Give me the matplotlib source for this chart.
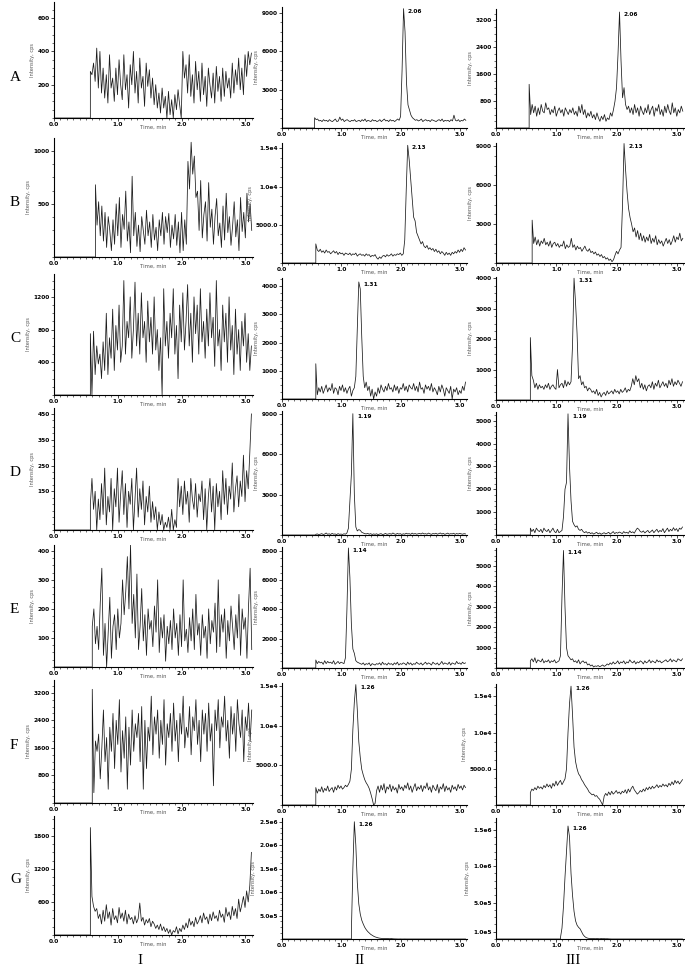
import numpy as np
import matplotlib
matplotlib.use("Agg")
import matplotlib.pyplot as plt
from matplotlib.ticker import MultipleLocator, AutoMinorLocator

# sampling step of the traces (min)
STEP = 0.025

# ---- column I (blank) ----
i_start = [0.57, 0.65, 0.57, 0.57, 0.60, 0.60, 0.57]
i_a = [280, 260, 330, 220, 420, 180, 400, 150, 300, 120,
       260, 90, 380, 180, 240, 100, 300, 140, 350, 200,
       110, 380, 170, 260, 60, 320, 200, 400, 150, 280,
       90, 360, 180, 250, 70, 330, 190, 290, 120, 240,
       80, 200, 60, 150, 30, 180, 60, 130, 0, 160,
       20, 110, 0, 140, 50, 170, 80, 0, 400, 240,
       320, 150, 380, 130, 260, 90, 340, 170, 280, 100,
       330, 140, 250, 70, 300, 200, 120, 270, 90, 310,
       160, 250, 100, 300, 130, 280, 180, 240, 120, 330,
       150, 290, 200, 360, 170, 300, 140, 380, 250, 400,
       320, 390]
i_b = [680, 300, 520, 200, 480, 150, 420, 90, 380, 250,
       60, 350, 120, 500, 200, 560, 90, 400, 260, 620,
       150, 330, 40, 760, 200, 420, 100, 300, 50, 380,
       250, 120, 440, 200, 330, 90, 400, 160, 280, 60,
       350, 200, 420, 120, 380, 230, 410, 90, 300, 170,
       400, 110, 330, 40, 420, 60, 350, 120, 900, 640,
       1080, 780, 950, 560, 620, 250, 720, 180, 400, 520,
       150, 700, 280, 450, 120, 380, 550, 200, 320, 90,
       480, 160, 600, 230, 380, 110, 290, 520, 190, 350,
       60, 560, 240, 420, 180, 600, 330, 500, 250]
i_c = [750, 0, 780, 250, 600, 380, 500, 200, 650, 300,
       1000, 250, 700, 450, 1050, 300, 850, 550, 1100, 400,
       600, 1400, 500, 900, 700, 1200, 450, 800, 1380, 600,
       1000, 500, 1250, 700, 900, 400, 1150, 650, 950, 500,
       1200, 550, 800, 300, 700, 0, 1300, 600, 900, 450,
       1000, 700, 1300, 500, 850, 200, 1100, 650, 1250, 550,
       900, 1350, 600, 1000, 400, 1200, 750, 1100, 500, 1300,
       650, 900, 450, 1050, 600, 1250, 700, 950, 350, 1400,
       600, 800, 300, 1100, 650, 1000, 400, 1200, 550, 850,
       250, 1050, 500, 800, 300, 900, 600, 1000, 400, 750,
       300, 600]
i_d = [100, 200, 80, 150, 0, 120, 40, 180, 60, 240,
       20, 130, 70, 200, 0, 160, 90, 240, 30, 140,
       230, 60, 180, 10, 150, 100, 200, 0, 120, 240,
       50, 160, 80, 190, 20, 130, 70, 170, 30, 110,
       40, 90, 0, 70, 20, 60, 0, 30, 10, 50,
       0, 80, 0, 40, 10, 200, 90, 170, 60, 190,
       100, 150, 30, 200, 120, 80, 180, 50, 140, 110,
       190, 40, 160, 0, 130, 200, 70, 170, 0, 180,
       90, 150, 40, 230, 100, 200, 60, 170, 120, 260,
       70, 160, 210, 90, 190, 130, 290, 110, 230, 160,
       300, 450]
i_e = [140, 200, 80, 140, 60, 220, 340, 40, 150, 0,
       120, 240, 30, 140, 180, 60, 200, 100, 150, 300,
       180, 260, 380, 200, 420, 150, 250, 100, 320, 60,
       140, 270, 90, 180, 40, 200, 130, 160, 70, 210,
       120, 300, 50, 170, 100, 180, 20, 140, 80, 160,
       60, 200, 100, 150, 40, 180, 70, 300, 90, 130,
       50, 170, 90, 200, 60, 250, 110, 150, 40, 180,
       100, 140, 30, 200, 80, 160, 120, 220, 50, 300,
       70, 180, 120, 200, 30, 160, 90, 210, 140, 60,
       180, 100, 250, 40, 200, 130, 170, 30, 210, 340,
       60]
i_f = [3300, 300, 1800, 1500, 2000, 700, 1600, 2700, 1200, 1900,
       400, 2200, 1500, 2600, 1000, 2400, 1700, 3000, 900, 2100,
       1300, 2500, 400, 2200, 1100, 2700, 1500, 2300, 1900, 2600,
       1200, 2800, 400, 2400, 1000, 2200, 1800, 3100, 1400, 2500,
       2000, 2700, 1300, 2400, 1700, 3000, 1100, 2300, 1900, 2600,
       1500, 2900, 1800, 2400, 1200, 2600, 2000, 3100, 1600, 2200,
       1900, 2800, 1400, 2500, 2100, 3000, 1700, 2400, 1200, 2700,
       2000, 2600, 1500, 2900, 1800, 2300, 500, 2700, 2100, 3000,
       1600, 2500, 2200, 3100, 1800, 2400, 1300, 2800, 2000, 2600,
       1500, 3000, 2300, 1900, 2700, 1200, 2500, 2100, 2900, 1800,
       2700]
i_g = [1950, 700, 520, 430, 480, 300, 380, 200, 450, 250,
       550, 300, 420, 180, 480, 280, 350, 220, 500, 300,
       400, 250, 450, 200, 380, 280, 320, 200, 350, 220,
       300, 580, 250, 320, 180, 280, 220, 300, 150, 250,
       200, 120, 180, 100, 200, 80, 150, 60, 120, 30,
       100, 0, 80, 50, 150, 20, 120, 60, 180, 100,
       220, 130, 300, 180, 250, 150, 320, 200, 260, 350,
       220, 400, 280, 330, 200, 380, 260, 420, 300, 350,
       250, 450, 320, 380, 230, 500, 340, 420, 280, 520,
       350, 480, 300, 650, 420, 550, 700, 500, 800, 600,
       900, 1500]

# ---- column II ----
ii_start = [0.55, 0.57, 0.57, 0.57, 0.57, 0.57, 1.17]
ii_a = [800, 650, 700, 550, 600, 500, 650, 550, 600, 500,
        650, 550, 500, 600, 700, 500, 550, 850, 600, 700,
        500, 600, 650, 550, 500, 600, 550, 650, 500, 550,
        600, 500, 650, 550, 700, 500, 600, 550, 500, 650,
        550, 600, 500, 550, 650, 500, 600, 700, 550, 600,
        500, 650, 550, 600, 500, 600, 700, 600, 900, 4500,
        9300, 7500, 3500, 1800, 1400, 1000, 800, 700, 600, 650,
        550, 600, 700, 500, 600, 650, 550, 600, 500, 650,
        600, 550, 500, 600, 650, 550, 700, 500, 600, 550,
        600, 500, 650, 550, 1000, 600, 550, 650, 500, 600,
        550, 700, 600]
ii_b = [2500, 1700, 1500, 1800, 1400, 1600, 1300, 1700, 1400, 1500,
        1200, 1400, 1600, 1300, 1500, 1100, 1400, 1200, 1300, 1000,
        1300, 1200, 1100, 1300, 1000, 1200, 1100, 1300, 900, 1100,
        1200, 1000, 1100, 900, 1200, 1000, 1100, 800, 1000, 900,
        1100, 700, 500, 800, 600, 900, 1000, 800, 1100, 900,
        1000, 1200, 900, 1100, 1000, 1200, 1100, 1300, 1000, 1200,
        3000, 9500, 15400, 13500, 11000, 8500, 6000, 5500, 4000, 3500,
        3000, 2500, 2800, 2200, 2000, 2300, 1800, 2000, 1700, 1900,
        1500, 1800, 1400, 1600, 1200, 1500, 1300, 1000, 1400, 1100,
        1300, 1000, 1400, 1200, 1500, 1300, 1700, 1400, 1800, 1500,
        2000, 1700]
ii_c = [1250, 150, 400, 250, 450, 200, 350, 500, 250, 400,
        300, 550, 200, 400, 350, 150, 450, 300, 500, 250,
        400, 200, 350, 450, 100, 300, 400, 800, 2500, 4150,
        3900, 2200, 800, 400, 600, 300, 450, 100, 350, 0,
        250, 100, 400, 200, 500, 350, 250, 450, 300, 550,
        350, 400, 250, 500, 300, 450, 200, 400, 350, 550,
        300, 450, 250, 500, 400, 350, 550, 300, 450, 250,
        600, 350, 400, 200, 500, 350, 450, 300, 550, 250,
        400, 300, 150, 450, 250, 500, 350, 100, 400, 300,
        200, 450, 0, 350, 250, 400, 150, 300, 200, 450,
        300, 600]
ii_d = [50, 80, 30, 60, 100, 40, 70, 150, 50, 90,
        40, 120, 60, 80, 30, 100, 50, 70, 40, 90,
        60, 150, 500, 2500, 4500, 9000, 3000, 600, 300, 400,
        350, 200, 150, 100, 80, 120, 60, 100, 40, 80,
        50, 90, 30, 70, 100, 40, 60, 120, 50, 80,
        100, 60, 150, 80, 50, 120, 70, 100, 40, 90,
        60, 130, 80, 100, 50, 140, 70, 110, 60, 90,
        120, 70, 150, 80, 100, 60, 140, 90, 50, 110,
        80, 130, 60, 100, 150, 70, 120, 50, 90, 140,
        60, 100, 80, 130, 50, 110, 70, 120, 90, 60,
        100, 80]
ii_e = [550, 300, 450, 350, 400, 250, 500, 300, 450, 350,
        400, 300, 500, 250, 350, 450, 300, 400, 350, 300,
        700, 4000, 8200, 6200, 3000, 1300, 1000, 500, 400, 350,
        300, 250, 350, 200, 300, 250, 350, 150, 300, 250,
        200, 300, 250, 350, 200, 400, 250, 300, 200, 350,
        250, 300, 200, 350, 250, 400, 200, 300, 250, 350,
        300, 200, 400, 250, 350, 200, 300, 250, 400, 300,
        250, 350, 200, 300, 400, 250, 350, 300, 200, 400,
        300, 250, 350, 200, 300, 450, 250, 350, 300, 250,
        400, 200, 350, 300, 250, 450, 300, 350, 250, 400,
        300, 350]
ii_f = [2200, 1500, 2000, 1700, 2300, 1600, 2100, 1800, 2400, 1700,
        2000, 2200, 1600, 2300, 1900, 2500, 2100, 2400, 2000, 2200,
        2500, 2300, 2600, 3000, 4500, 9500, 13000, 15200, 12000, 8000,
        6000, 4500, 3800, 3200, 2800, 2500, 2100, 1500, 800, 0,
        200, 1800, 2400, 1600, 2500, 1900, 2700, 1500, 2300, 2000,
        2600, 1700, 2400, 1900, 2200, 1500, 2600, 2000, 2300, 1800,
        2500, 2100, 2800, 1900, 2400, 1600, 2200, 2700, 1800, 2300,
        2000, 2500, 1700, 2400, 2100, 2800, 1900, 2300, 1600, 2500,
        2100, 1800, 2600, 1500, 2300, 2000, 2700, 1700, 2400, 1900,
        2200, 1600, 2500, 2000, 2300, 1800, 2600, 2100, 2400, 1900,
        2500, 2200]
ii_g = [150000, 1500000, 2500000, 2000000, 1200000, 750000, 530000, 400000, 320000, 250000,
        200000, 160000, 130000, 100000, 80000, 60000, 45000, 35000, 25000, 18000,
        14000, 10000, 8000, 9000, 12000, 8000, 6000, 10000, 5000, 3000,
        2000, 1000, 0, 1500, 0, 0, 1000, 0, 0, 0,
        0, 0, 0, 0, 0, 0, 0, 0, 0, 0,
        0, 0, 0, 0, 0, 0, 0, 0, 0, 0,
        0, 0, 0, 0, 0, 0, 0, 0, 0, 0,
        0, 0, 0, 0, 0, 0, 0, 0]

# ---- column III ----
iii_start = [0.55, 0.60, 0.57, 0.57, 0.57, 0.57, 1.07]
iii_a = [1300, 400, 700, 450, 650, 350, 600, 400, 700, 500,
         450, 750, 550, 600, 400, 550, 450, 650, 350, 500,
         600, 450, 550, 350, 600, 500, 400, 550, 450, 600,
         400, 500, 350, 650, 450, 700, 400, 550, 300, 450,
         350, 500, 300, 400, 250, 450, 300, 200, 350, 250,
         400, 200, 300, 250, 450, 350, 550, 800, 1200, 2200,
         3450, 2000, 900, 1200, 700, 550, 650, 450, 600, 400,
         700, 450, 600, 350, 650, 500, 400, 600, 450, 700,
         400, 550, 650, 350, 600, 500, 700, 400, 550, 350,
         650, 450, 700, 500, 400, 750, 450, 600, 350, 550,
         450, 650, 500]
iii_b = [3300, 1500, 2000, 1400, 1800, 1300, 1700, 1500, 1900, 1400,
         1600, 1300, 1700, 1200, 1500, 1600, 1300, 1500, 1200, 1400,
         1300, 1700, 1100, 1400, 1200, 1300, 1900, 1200, 1400, 1000,
         1300, 1100, 1200, 900, 1100, 1300, 1000, 900, 1100, 800,
         900, 700, 850, 600, 700, 500, 650, 400, 500, 300,
         400, 200, 300, 100, 250, 600, 900, 700, 1000, 1200,
         4500, 9200, 7200, 5500, 4200, 3500, 3000, 2400, 2700, 2000,
         2500, 1800, 2300, 1700, 2100, 1600, 2000, 1700, 2200, 1500,
         1900, 1600, 2100, 1400, 1800, 1500, 1700, 1300, 1600, 1900,
         1500, 1800, 1400, 1700, 2100, 1600, 2000, 1800, 2300, 1700,
         1900]
iii_c = [2050, 800, 650, 400, 550, 350, 500, 400, 450, 350,
         500, 400, 550, 350, 450, 500, 400, 350, 1000, 400,
         500, 550, 400, 650, 450, 600, 500, 600, 1800, 4000,
         3200, 2200, 700, 800, 500, 600, 400, 450, 300, 400,
         350, 250, 300, 200, 350, 150, 250, 100, 200, 250,
         150, 300, 200, 250, 300, 200, 350, 250, 300, 200,
         350, 250, 300, 400, 250, 350, 300, 450, 700, 500,
         800, 600, 700, 400, 550, 350, 500, 300, 450, 500,
         400, 600, 350, 550, 450, 650, 400, 500, 600, 450,
         550, 400, 650, 500, 700, 450, 600, 500, 650, 550,
         450, 600]
iii_d = [300, 150, 250, 100, 300, 200, 150, 250, 100, 300,
         200, 150, 250, 100, 200, 300, 150, 100, 250, 100,
         150, 200, 800, 2000, 2300, 5300, 3000, 1500, 600, 450,
         350, 400, 250, 200, 250, 150, 100, 150, 80, 120,
         60, 100, 40, 80, 120, 50, 90, 30, 70, 100,
         50, 80, 120, 40, 90, 150, 60, 110, 80, 130,
         100, 60, 150, 90, 120, 70, 180, 100, 140, 80,
         200, 300, 250, 150, 120, 180, 90, 150, 200, 100,
         150, 220, 100, 180, 250, 120, 200, 150, 280, 100,
         200, 300, 150, 250, 180, 320, 200, 280, 150, 300,
         250, 350]
iii_e = [350, 450, 300, 500, 250, 400, 350, 300, 450, 250,
         350, 300, 400, 250, 350, 300, 400, 250, 300, 350,
         600, 3500, 5750, 3000, 1000, 600, 500, 400, 450, 300,
         350, 250, 400, 200, 300, 350, 250, 300, 150, 200,
         100, 150, 50, 100, 80, 120, 60, 100, 150, 80,
         120, 200, 150, 250, 180, 300, 200, 250, 350, 200,
         300, 250, 350, 200, 300, 250, 400, 300, 250, 350,
         200, 300, 250, 350, 300, 200, 350, 250, 300, 400,
         250, 350, 300, 250, 400, 300, 350, 250, 300, 350,
         400, 300, 350, 450, 300, 400, 350, 300, 450, 400,
         350, 450]
iii_f = [1700, 2200, 2000, 2400, 2100, 2600, 2300, 2500, 2200, 2700,
         2400, 2900, 2500, 2800, 2300, 3000, 2600, 3300, 2700, 3100,
         3400, 2800, 3200, 3600, 5000, 10000, 14000, 16400, 12500, 8000,
         6000, 5000, 4300, 4000, 3500, 3200, 2800, 2500, 2200, 1800,
         1600, 1400, 1500, 1200, 1300, 1000, 800, 400, 0, 1200,
         1600, 1300, 1800, 1400, 1900, 1500, 1700, 2000, 1600, 1800,
         1500, 1900, 1700, 2100, 1600, 2200, 1800, 2300, 2600, 2100,
         1800, 1500, 1700, 2000, 1800, 2200, 1900, 2400, 2100, 2500,
         2200, 2600, 2300, 2500, 2800, 2400, 2700, 2500, 2900, 2600,
         2800, 2500, 3000, 2700, 3200, 2800, 3400, 3000, 3300, 2900,
         3200, 3500]
iii_g = [20000, 150000, 450000, 850000, 1200000, 1550000, 1400000, 900000, 600000, 380000,
         250000, 190000, 160000, 140000, 100000, 60000, 35000, 20000, 12000, 8000,
         6000, 5000, 7000, 4000, 6000, 5000, 3000, 6000, 4000, 5000,
         3000, 4000, 2000, 1000, 0, 0, 0, 0, 0, 0,
         0, 0, 0, 0, 0, 0, 0, 0, 0, 0,
         0, 0, 0, 0, 0, 0, 0, 0, 0, 0,
         0, 0, 0, 0, 0, 0, 0, 0, 0, 0,
         0, 0, 0, 0, 0, 0, 0, 0, 0, 0,
         0, 0]

row_names = ["A", "B", "C", "D", "E", "F", "G"]
col_names = ["I", "II", "III"]
peak_labels = ["2.06", "2.13", "1.31", "1.19", "1.14", "1.26", "1.26"]
x_ticks = [0.0, 1.0, 2.0, 3.0]
x_ticklabels = ["0.0", "1.0", "2.0", "3.0"]

# y axis ticks + labels for each panel
i_yticks = [[200, 400, 600], [500, 1000], [400, 800, 1200], [150, 250, 350, 450],
            [100, 200, 300, 400], [800, 1600, 2400, 3200], [600, 1200, 1800]]
ii_yticks = [[3000, 6000, 9000], [5000, 10000, 15000], [1000, 2000, 3000, 4000],
             [3000, 6000, 9000], [2000, 4000, 6000, 8000], [5000, 10000, 15000],
             [500000, 1000000, 1500000, 2000000, 2500000]]
iii_yticks = [[800, 1600, 2400, 3200], [3000, 6000, 9000], [1000, 2000, 3000, 4000],
              [1000, 2000, 3000, 4000, 5000], [1000, 2000, 3000, 4000, 5000],
              [5000, 10000, 15000], [100000, 500000, 1000000, 1500000]]
ii_ylabels_b = ["5000.0", "1.0e4", "1.5e4"]
ii_ylabels_g = ["5.0e5", "1.0e6", "1.5e6", "2.0e6", "2.5e6"]
iii_ylabels_g = ["1.0e5", "5.0e5", "1.0e6", "1.5e6"]

# y-axis tops
i_ytop = [697, 1120, 1480, 473, 420, 3570, 2160]
ii_ytop = [9430, 15700, 4290, 9200, 8270, 15400, 2580000]
iii_ytop = [3540, 9240, 4040, 5380, 5870, 16700, 1660000]

# panel boxes in pixels (left, top, right, bottom)
W, H = 685, 967
col_x = [(54, 253), (282, 467), (496, 684)]
row_y = [
    [(2, 118), (138, 257), (274, 395), (408, 530), (545, 667), (680, 803), (816, 935)],
    [(7, 128), (143, 263), (278, 399), (411, 535), (547, 668), (683, 805), (818, 939)],
    [(9, 128), (143, 263), (277, 400), (412, 535), (548, 668), (684, 805), (818, 939)],
]
# vertical spot of the row letters, as a fraction of the column I panel height
letter_frac = [0.35, 0.46, 0.47, 0.47, 0.47, 0.47, 0.47]

traces = [[i_a, i_b, i_c, i_d, i_e, i_f, i_g],
          [ii_a, ii_b, ii_c, ii_d, ii_e, ii_f, ii_g],
          [iii_a, iii_b, iii_c, iii_d, iii_e, iii_f, iii_g]]
starts = [i_start, ii_start, iii_start]
yticks = [i_yticks, ii_yticks, iii_yticks]
ytops = [i_ytop, ii_ytop, iii_ytop]


def fmt_tick(v):
    return f"{v:g}"


fig = plt.figure(figsize=(W / 100, H / 100), dpi=100)

for c in range(3):
    for r in range(7):
        l, rr = col_x[c]
        t, b = row_y[c][r]
        ax = fig.add_axes([l / W, 1 - b / H, (rr - l) / W, (b - t) / H])

        vals = np.array(traces[c][r], dtype=float)
        t0 = starts[c][r]
        tt = t0 + STEP * np.arange(len(vals))
        x = np.concatenate([[0.0, t0], tt])
        y = np.concatenate([[0.0, 0.0], vals])
        ax.plot(x, y, color="#1a1a1a", lw=0.55)

        ax.set_xlim(0, 3.12)
        ax.set_ylim(0, ytops[c][r])
        for s in ["top", "right"]:
            ax.spines[s].set_visible(False)
        for s in ["left", "bottom"]:
            ax.spines[s].set_linewidth(0.8)

        ax.set_xticks(x_ticks)
        ax.set_xticklabels(x_ticklabels)
        ax.xaxis.set_minor_locator(MultipleLocator(0.1))
        ax.set_yticks(yticks[c][r])
        if c == 1 and r in (1, 5):
            ax.set_yticklabels(ii_ylabels_b)
        elif c == 2 and r == 5:
            ax.set_yticklabels(ii_ylabels_b)
        elif c == 1 and r == 6:
            ax.set_yticklabels(ii_ylabels_g)
        elif c == 2 and r == 6:
            ax.set_yticklabels(iii_ylabels_g)
        else:
            ax.set_yticklabels([fmt_tick(v) for v in yticks[c][r]])
        ax.yaxis.set_minor_locator(AutoMinorLocator(4))

        ax.tick_params(which="major", labelsize=4.2, width=0.5, length=2.0, pad=1.0)
        ax.tick_params(which="minor", width=0.4, length=1.1)
        for lbl in ax.get_xticklabels() + ax.get_yticklabels():
            lbl.set_fontweight("bold")

        ax.set_xlabel("Time, min", fontsize=3.8, color="#555555", labelpad=-1.8)
        ax.set_ylabel("Intensity, cps", fontsize=3.6, color="#555555", labelpad=2)

        if c > 0:
            k = int(np.argmax(y))
            ax.text(x[k] + 0.07, y[k], peak_labels[r], fontsize=4.2,
                    fontweight="bold", va="top", ha="left")

for r in range(7):
    t, b = row_y[0][r]
    yc = b - letter_frac[r] * (b - t)
    fig.text(10 / W, 1 - yc / H, row_names[r], fontsize=11,
             family="Liberation Serif", va="center", ha="left")

for c, xc in enumerate([140, 360, 573]):
    fig.text(xc / W, 1 - 961 / H, col_names[c], fontsize=11,
             family="Liberation Serif", va="center", ha="center")

fig.savefig("out.png", dpi=100)
